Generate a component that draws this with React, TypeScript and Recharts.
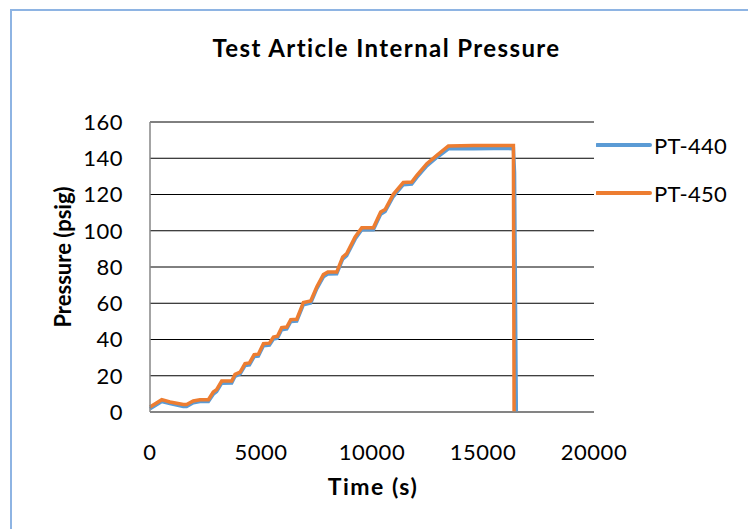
import { LineChart, Line, XAxis, YAxis, CartesianGrid, Legend } from 'recharts';

// PT-450 (orange) samples
const time450 = [0, 530, 900, 1500, 1650, 1950, 2250, 2630, 2850, 3000, 3230, 3680, 3830, 4060, 4280, 4480, 4690, 4880, 5110, 5380, 5560, 5740, 5930, 6160, 6340, 6610, 6910, 7240, 7510, 7810, 8010, 8410, 8680, 8860, 9240, 9540, 10060, 10390, 10590, 10960, 11410, 11790, 12020, 12470, 12920, 13440, 14570, 15470, 16370, 16400];
const pressure450 = [2.8, 6.8, 5.5, 4.1, 4.1, 6.1, 6.8, 6.8, 11, 12.4, 17.1, 17.1, 20.8, 22, 26.7, 27.1, 31.7, 31.9, 37.7, 38, 41.4, 41.8, 46.6, 46.9, 51, 51.2, 60.4, 61.3, 69, 75.8, 77.2, 77.2, 85.5, 87.4, 96.6, 101.7, 101.7, 110.3, 111.7, 120.1, 126.6, 126.9, 130.6, 137, 141.6, 146.8, 147, 147.1, 147.1, 0];

// PT-440 (blue) samples, sits just under the orange trace
const time440 = [0, 530, 900, 1500, 1650, 1950, 2250, 2630, 2850, 3000, 3230, 3680, 3830, 4060, 4280, 4480, 4690, 4880, 5110, 5380, 5560, 5740, 5930, 6160, 6340, 6610, 6910, 7240, 7510, 7810, 8010, 8410, 8680, 8860, 9240, 9540, 10060, 10390, 10590, 10960, 11410, 11790, 12020, 12470, 12920, 13440, 14570, 15470, 16370, 16420, 16500];
const pressure440 = [1.8, 5.8, 4.6, 3.1, 3.1, 5.1, 5.8, 5.8, 9.8, 11.3, 15.9, 16, 19.7, 21, 25.6, 26, 30.6, 30.8, 36.5, 36.9, 40.3, 40.7, 45.4, 45.8, 49.9, 50.2, 59.2, 60.2, 67.9, 74.6, 76.1, 76.2, 84.3, 86.3, 95.4, 100.5, 100.6, 109.1, 110.6, 118.9, 125.4, 125.7, 129.4, 135.8, 140.4, 145.2, 145.3, 145.4, 145.3, 132, 0];

const xTicks = [0, 5000, 10000, 15000, 20000];
const yTicks = [0, 20, 40, 60, 80, 100, 120, 140, 160];

const data440 = time440.map((t, i) => ({ t, v: pressure440[i] }));
const data450 = time450.map((t, i) => ({ t, v: pressure450[i] }));

const FONT = 'Lato, "Open Sans", sans-serif';

const legendItems = [
  { name: 'PT-440', color: '#5b9bd5' },
  { name: 'PT-450', color: '#ed7d31' },
];

const ChartLegend = () => (
  <div style={{ fontFamily: FONT, fontSize: 22, color: '#000', letterSpacing: 0.3 }}>
    {legendItems.map((item) => (
      <div key={item.name} style={{ display: 'flex', alignItems: 'center', height: 48 }}>
        <svg width={58} height={8} style={{ display: 'block' }}>
          <line x1={1} y1={4} x2={54} y2={4} stroke={item.color} strokeWidth={4} strokeLinecap="round" />
        </svg>
        <span>{item.name}</span>
      </div>
    ))}
  </div>
);

const YTitle = () => (
  <text
    x={62}
    y={257}
    transform="rotate(-90, 62, 257)"
    textAnchor="middle"
    dominantBaseline="central"
    style={{ fontFamily: FONT, fontSize: 22, fontWeight: 700, fill: '#000' }}
  >
    Pressure (psig)
  </text>
);

const XTitle = () => (
  <text
    x={373}
    y={495}
    textAnchor="middle"
    style={{ fontFamily: FONT, fontSize: 23, fontWeight: 700, fill: '#000', letterSpacing: 1.5 }}
  >
    Time (s)
  </text>
);

const App = () => {
  return (
    <div style={{ position: 'absolute', left: 0, top: 0, width: 748, height: 529, overflow: 'hidden', background: '#fff' }}>
      <div style={{ position: 'absolute', left: 10, top: 9, width: 800, height: 600, border: '2px solid #8eb4e3' }} />
      <div
        style={{
          position: 'absolute',
          left: 0,
          top: 36,
          width: 773,
          textAlign: 'center',
          fontFamily: FONT,
          fontSize: 24,
          fontWeight: 700,
          lineHeight: 1,
          letterSpacing: 1.4,
          color: '#000',
        }}
      >
        Test Article Internal Pressure
      </div>
      <LineChart width={748} height={529} margin={{ top: 122, right: 4, left: 90, bottom: 57 }} style={{ position: 'absolute', left: 0, top: 0 }}>
        <CartesianGrid vertical={false} stroke="#000" />
        <XAxis
          type="number"
          dataKey="t"
          domain={[0, 20000]}
          ticks={xTicks}
          height={60}
          tickLine={false}
          tickSize={0}
          tickMargin={32}
          axisLine={{ stroke: '#868686', strokeWidth: 1.5 }}
          tick={{ fontFamily: FONT, fontSize: 22, fill: '#000', letterSpacing: 0.5 }}
          label={<XTitle />}
        />
        <YAxis
          type="number"
          domain={[0, 160]}
          ticks={yTicks}
          width={60}
          tickLine={false}
          tickSize={0}
          tickMargin={27}
          axisLine={{ stroke: '#868686', strokeWidth: 1.5 }}
          tick={{ fontFamily: FONT, fontSize: 22, fill: '#000', letterSpacing: 0.5 }}
          label={<YTitle />}
        />
        <Legend
          layout="vertical"
          align="right"
          verticalAlign="top"
          content={<ChartLegend />}
          wrapperStyle={{ left: 596, top: 121, width: 150 }}
        />
        <Line data={data440} dataKey="v" name="PT-440" type="linear" stroke="#5b9bd5" strokeWidth={3.5} dot={false} isAnimationActive={false} />
        <Line data={data450} dataKey="v" name="PT-450" type="linear" stroke="#ed7d31" strokeWidth={3.5} dot={false} isAnimationActive={false} />
      </LineChart>
    </div>
  );
};

export default App;
